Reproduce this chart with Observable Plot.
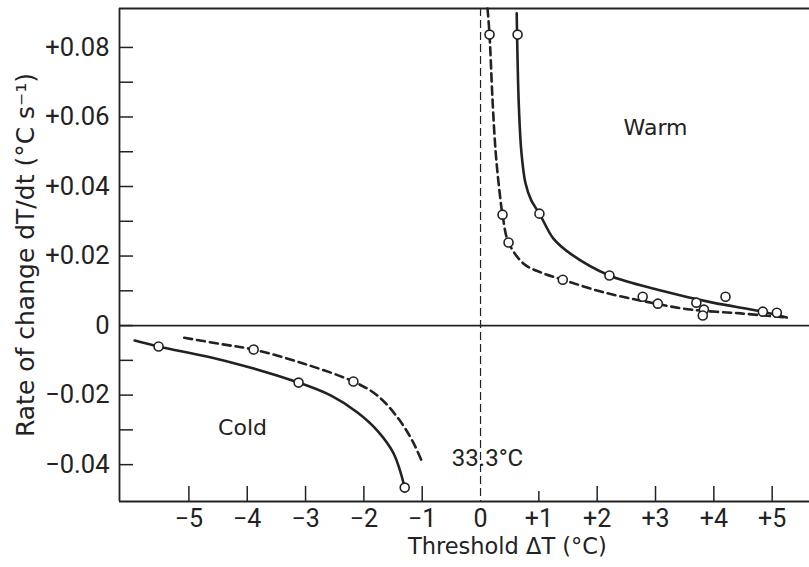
<!DOCTYPE html>
<html>
<head>
<meta charset="utf-8">
<script src="https://cdn.jsdelivr.net/npm/d3@7"></script>
<script src="https://cdn.jsdelivr.net/npm/@observablehq/plot@0.6"></script>
<style>
  html, body { margin: 0; padding: 0; background: #fff; }
</style>
</head>
<body>
<div id="chart"></div>
<script>
// ---- tick values / labels ----
const xTickVals = [-5, -4, -3, -2, -1, 1, 2, 3, 4, 5];
const xLabelVals = [-5, -4, -3, -2, -1, 0, 1, 2, 3, 4, 5];
const yMajor = [-0.04, -0.02, 0, 0.02, 0.04, 0.06, 0.08];
const yMinor = [-0.03, -0.01, 0.01, 0.03, 0.05, 0.07];

// ---- warm, solid curve ----
const warmSolidCurveX = [0.62, 0.635, 0.655, 0.70, 0.77, 0.87, 1.01, 1.25, 1.54, 2.21, 3.09, 3.98, 4.84, 5.25];
const warmSolidCurveY = [0.0898, 0.0763, 0.064, 0.050, 0.041, 0.036, 0.0322, 0.025, 0.0207, 0.0144, 0.0101, 0.0066, 0.0040, 0.0023];
const warmSolidPtsX = [0.635, 1.01, 2.21, 3.70, 4.20, 4.84];
const warmSolidPtsY = [0.0837, 0.0322, 0.0144, 0.0066, 0.0083, 0.0040];

// ---- warm, dashed curve ----
const warmDashCurveX = [0.12, 0.154, 0.206, 0.257, 0.31, 0.377, 0.48, 0.74, 1.03, 1.41, 2.06, 2.83, 3.6, 4.46, 5.25];
const warmDashCurveY = [0.0912, 0.0837, 0.0647, 0.0504, 0.0409, 0.0319, 0.0239, 0.0178, 0.0153, 0.0132, 0.0098, 0.0069, 0.0046, 0.0035, 0.0023];
const warmDashPtsX = [0.154, 0.377, 0.48, 1.41, 2.78, 3.04, 3.83, 3.81, 5.08];
const warmDashPtsY = [0.0837, 0.0319, 0.0239, 0.0132, 0.0083, 0.0063, 0.0046, 0.0029, 0.0037];

// ---- cold, solid curve ----
const coldSolidCurveX = [-5.93, -5.52, -4.34, -3.12, -2.57, -2.11, -1.77, -1.49, -1.30];
const coldSolidCurveY = [-0.0043, -0.0060, -0.0103, -0.0164, -0.0201, -0.0250, -0.0302, -0.0368, -0.0466];
const coldSolidPtsX = [-5.52, -3.12, -1.30];
const coldSolidPtsY = [-0.0060, -0.0164, -0.0466];

// ---- cold, dashed curve ----
const coldDashCurveX = [-5.08, -4.46, -3.89, -3.04, -2.18, -1.77, -1.42, -1.17, -0.99];
const coldDashCurveY = [-0.0035, -0.0053, -0.0069, -0.0109, -0.0161, -0.0201, -0.0265, -0.0331, -0.0397];
const coldDashPtsX = [-3.89, -2.18];
const coldDashPtsY = [-0.0069, -0.0161];

// ---- texts ----
const regionLabels = ["Warm", "Cold"];
const baselineLabel = "33.3°C";
const xTitle = "Threshold ΔT (°C)";
const yTitle = "Rate of change dT/dt (°C s⁻¹)";

const toPts = (xs, ys) => xs.map((x, i) => ({x, y: ys[i]}));

const X0 = -6.19, X1 = 5.64, Y0 = -0.0506, Y1 = 0.0912;
const ink = "#222";
const tickFont = "Roboto, 'DejaVu Sans', sans-serif";
const textFont = "'DejaVu Sans', sans-serif";

const fmtY = d => d > 0 ? "+" + d.toFixed(2) : d < 0 ? "\u2212" + Math.abs(d).toFixed(2) : "0";
const fmtX = d => d > 0 ? "+" + d : d < 0 ? "\u2212" + Math.abs(d) : "0";

const chart = Plot.plot({
  width: 809,
  height: 567,
  marginLeft: 119,
  marginRight: 0,
  marginTop: 8,
  marginBottom: 66,
  style: {fontFamily: tickFont, background: "#fff", color: ink},
  x: {domain: [X0, X1], label: null},
  y: {domain: [Y0, Y1], label: null},
  marks: [
    // frame lines
    Plot.ruleX([X0], {stroke: ink, strokeWidth: 1.8}),
    Plot.ruleY([Y1, Y0], {stroke: ink, strokeWidth: 1.8}),
    Plot.ruleY([0], {stroke: ink, strokeWidth: 1.6}),
    Plot.ruleX([0], {stroke: ink, strokeWidth: 1.2, strokeDasharray: "8,4"}),
    // inward ticks
    Plot.ruleY(yMajor.concat(yMinor), {y: d => d, x1: X0, x2: X0 + 14 / 58.3, stroke: ink, strokeWidth: 1.5}),
    Plot.ruleX(xTickVals, {x: d => d, y1: Y0, y2: d => Y0 + (d === 1 ? 10 : 15) / 3475, stroke: ink, strokeWidth: 1.5}),
    // axes labels
    Plot.axisY(yMajor, {tickSize: 0, tickPadding: 10, tickFormat: fmtY, fontSize: 25.5, label: null}),
    Plot.axisX(xLabelVals, {tickSize: 0, tickPadding: 8, tickFormat: fmtX, fontSize: 25, label: null}),
    // curves
    Plot.line(toPts(warmSolidCurveX, warmSolidCurveY), {x: "x", y: "y", curve: "catmull-rom", stroke: ink, strokeWidth: 2.6}),
    Plot.line(toPts(warmDashCurveX, warmDashCurveY), {x: "x", y: "y", curve: "catmull-rom", stroke: ink, strokeWidth: 2.6, strokeDasharray: "8,5"}),
    Plot.line(toPts(coldSolidCurveX, coldSolidCurveY), {x: "x", y: "y", curve: "catmull-rom", stroke: ink, strokeWidth: 2.6}),
    Plot.line(toPts(coldDashCurveX, coldDashCurveY), {x: "x", y: "y", curve: "catmull-rom", stroke: ink, strokeWidth: 2.6, strokeDasharray: "8,5"}),
    // observed points
    Plot.dot(toPts(warmSolidPtsX, warmSolidPtsY), {x: "x", y: "y", r: 4.5, fill: "#fff", stroke: ink, strokeWidth: 1.6}),
    Plot.dot(toPts(warmDashPtsX, warmDashPtsY), {x: "x", y: "y", r: 4.5, fill: "#fff", stroke: ink, strokeWidth: 1.6}),
    Plot.dot(toPts(coldSolidPtsX, coldSolidPtsY), {x: "x", y: "y", r: 4.5, fill: "#fff", stroke: ink, strokeWidth: 1.6}),
    Plot.dot(toPts(coldDashPtsX, coldDashPtsY), {x: "x", y: "y", r: 4.5, fill: "#fff", stroke: ink, strokeWidth: 1.6}),
    // annotations
    Plot.text([regionLabels[0]], {x: 3.0, y: 0.0567, text: d => d, fontSize: 22, fontFamily: textFont, fill: ink}),
    Plot.text([regionLabels[1]], {x: -4.08, y: -0.0294, text: d => d, fontSize: 22, fontFamily: textFont, fill: ink}),
    Plot.text([baselineLabel], {x: 0.12, y: -0.0383, text: d => d, fontSize: 24, fill: ink}),
    // titles
    Plot.text([xTitle], {x: 0.46, frameAnchor: "bottom", dy: 52, text: d => d, fontSize: 22.5, fontFamily: textFont, fill: ink}),
    Plot.text([yTitle], {frameAnchor: "left", dx: -94, rotate: -90, textAnchor: "middle", text: d => d, fontSize: 25, fontFamily: textFont, fill: ink})
  ]
});
document.getElementById("chart").appendChild(chart);
</script>
</body>
</html>
